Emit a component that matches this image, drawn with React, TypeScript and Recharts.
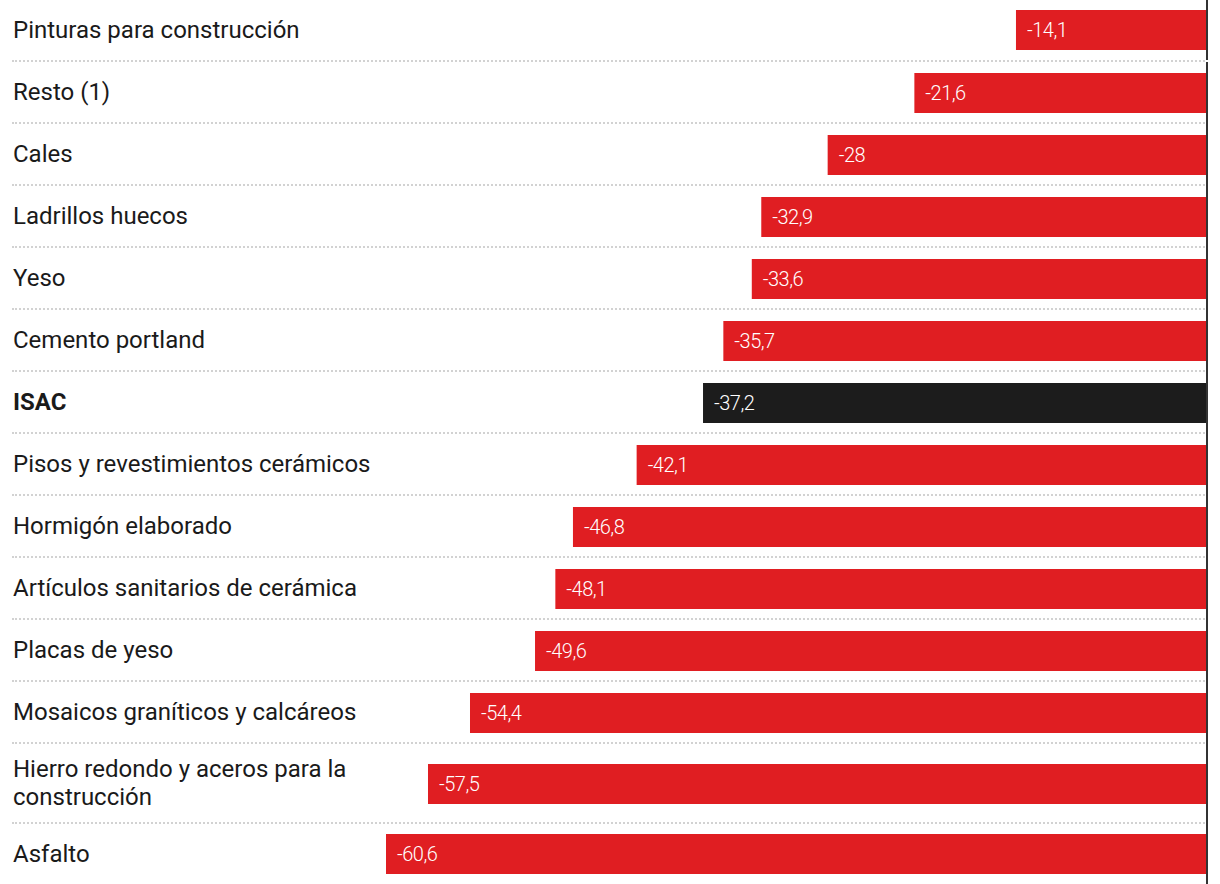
import { BarChart, Bar, XAxis, YAxis, ReferenceLine, LabelList } from 'recharts';

const categories = [
  'Pinturas para construcción',
  'Resto (1)',
  'Cales',
  'Ladrillos huecos',
  'Yeso',
  'Cemento portland',
  'ISAC',
  'Pisos y revestimientos cerámicos',
  'Hormigón elaborado',
  'Artículos sanitarios de cerámica',
  'Placas de yeso',
  'Mosaicos graníticos y calcáreos',
  'Hierro redondo y aceros para la construcción',
  'Asfalto',
];
const values = [-14.1, -21.6, -28, -32.9, -33.6, -35.7, -37.2, -42.1, -46.8, -48.1, -49.6, -54.4, -57.5, -60.6];
const highlight = 'ISAC';

const RED = '#e01e22';
const DARK = '#1c1c1c';
const minValue = Math.min(...values);

const fmt = (v: number) => String(v).replace('.', ',');

// eslint-disable-next-line @typescript-eslint/no-explicit-any
function ValueLabel(props: any) {
  const { x, y, width, height, value } = props;
  const left = Math.min(x, x + width);
  return (
    <text
      x={left + 11}
      y={y + height / 2}
      dy="0.36em"
      fill="#fff"
      fontSize={20}
      fontWeight={300}
      fontFamily="Roboto, sans-serif"
      letterSpacing={-0.5}
    >
      {fmt(value)}
    </text>
  );
}

function Row({ name, value, first, last }: { name: string; value: number; first: boolean; last: boolean }) {
  const tall = name.length > 34;
  const h = last ? 60 : tall ? 80 : 62;
  const isHi = name === highlight;
  return (
    <div style={{ position: 'relative', height: h }}>
      <BarChart
        layout="vertical"
        width={1220}
        height={h}
        data={[{ name, value }]}
        margin={{ top: first ? 0 : 0, right: 13, bottom: first ? 2 : 0, left: 386 }}
        barSize={40}
      >
        <XAxis type="number" domain={[minValue, 0]} allowDataOverflow hide />
        <YAxis type="category" dataKey="name" hide />
        <Bar dataKey="value" fill={isHi ? DARK : RED} isAnimationActive={false}>
          <LabelList dataKey="value" content={ValueLabel} />
        </Bar>
        <ReferenceLine x={0} stroke="#333" strokeWidth={2} ifOverflow="visible" />
      </BarChart>
      <div
        style={{
          position: 'absolute',
          left: 13,
          top: 0,
          width: 370,
          height: last ? h : h - 2,
          display: 'flex',
          alignItems: 'center',
          fontFamily: 'Roboto, sans-serif',
          fontSize: 24,
          lineHeight: '28px',
          color: '#1a1a1a',
          fontWeight: isHi ? 700 : 400,
        }}
      >
        {name}
      </div>
      {!last && (
        <div
          style={{
            position: 'absolute',
            left: 12,
            width: 1193,
            bottom: 0,
            borderTop: '2px dotted #d2d2d2',
          }}
        />
      )}
    </div>
  );
}

export default function App() {
  return (
    <div style={{ position: 'absolute', left: 0, top: 0, width: 1220, background: '#fff' }}>
      {categories.map((c, i) => (
        <Row
          key={c}
          name={c}
          value={values[i]}
          first={i === 0}
          last={i === categories.length - 1}
        />
      ))}
    </div>
  );
}
